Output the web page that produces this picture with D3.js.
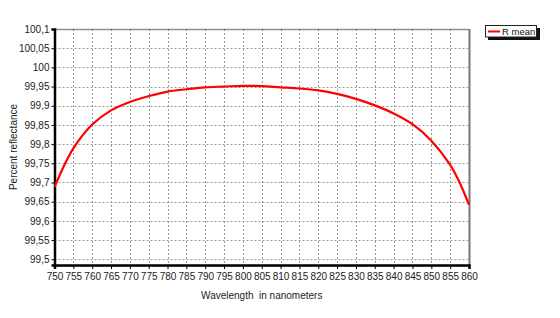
<!DOCTYPE html>
<html>
<head>
<meta charset="utf-8">
<script src="https://cdn.jsdelivr.net/npm/d3@7"></script>
<style>
  html, body { margin: 0; padding: 0; background: #fff; }
  svg { display: block; font-family: "Liberation Sans", Arial, sans-serif; }
</style>
</head>
<body>
<svg id="chart" width="560" height="318"></svg>
<script>
// ---- data ----
const wavelengths = [750, 752.5, 755, 760, 765, 770, 775, 780, 785, 790, 795, 800, 805, 810, 815, 820, 825, 830, 835, 840, 845, 850, 855, 857.5, 860];
const rMean       = [99.688, 99.743, 99.789, 99.851, 99.888, 99.910, 99.925, 99.937, 99.943, 99.948, 99.950, 99.952, 99.951, 99.948, 99.945, 99.940, 99.931, 99.918, 99.901, 99.880, 99.852, 99.809, 99.746, 99.700, 99.642];
const xTicks = [750, 755, 760, 765, 770, 775, 780, 785, 790, 795, 800, 805, 810, 815, 820, 825, 830, 835, 840, 845, 850, 855, 860];
const yTicks = [99.5, 99.55, 99.6, 99.65, 99.7, 99.75, 99.8, 99.85, 99.9, 99.95, 100, 100.05, 100.1];
const seriesName = "R mean";
const xTitle = "Wavelength  in nanometers";
const yTitle = "Percent reflectance";

// ---- layout ----
const svg = d3.select("#chart");
const L = 54.5, R = 469, T = 29, B = 265;

const x = d3.scaleLinear().domain([750, 860]).range([L, R]);
const y = d3.scaleLinear().domain([99.485, 100.1]).range([B, T]);

const fmt = v => {
  let s = v.toFixed(2).replace(/0+$/, "").replace(/\.$/, "");
  return s.replace(".", ",");
};

// grid
const grid = svg.append("g").attr("stroke", "#9a9a9a").attr("stroke-width", 1).attr("stroke-dasharray", "2,2");
grid.selectAll("line.v").data(xTicks.slice(1, -1)).join("line")
  .attr("x1", d => Math.round(x(d)) + 0.5).attr("x2", d => Math.round(x(d)) + 0.5)
  .attr("y1", T).attr("y2", B);
grid.selectAll("line.h").data(yTicks.filter(d => d < 100.1)).join("line")
  .attr("x1", L).attr("x2", R)
  .attr("y1", d => Math.round(y(d)) + 0.5).attr("y2", d => Math.round(y(d)) + 0.5);

// frame: top dotted, right gray
svg.append("line").attr("x1", L).attr("x2", R).attr("y1", T + 0.5).attr("y2", T + 0.5)
  .attr("stroke", "#222").attr("stroke-width", 1.5).attr("stroke-dasharray", "1,1");
svg.append("line").attr("x1", R + 0.5).attr("x2", R + 0.5).attr("y1", T).attr("y2", B)
  .attr("stroke", "#777").attr("stroke-width", 2);

// axes
const yAxis = d3.axisLeft(y).tickValues(yTicks).tickFormat(fmt).tickSize(3).tickPadding(2);
const gy = svg.append("g").attr("transform", `translate(${L},0)`).call(yAxis);
gy.select(".domain").attr("stroke", "#000").attr("stroke-width", 2.5);
gy.selectAll("text").attr("font-size", 10).attr("fill", "#222")
  .attr("font-family", "Liberation Sans, Arial, sans-serif");

const minor = d3.range(750, 861, 1);
const gxm = svg.append("g").attr("transform", `translate(0,${B})`);
gxm.selectAll("line").data(minor).join("line")
  .attr("x1", d => x(d)).attr("x2", d => x(d)).attr("y1", 0).attr("y2", 2)
  .attr("stroke", "#444").attr("stroke-width", 0.8);

const xAxis = d3.axisBottom(x).tickValues(xTicks).tickFormat(d3.format("d")).tickSize(4).tickPadding(4);
const gx = svg.append("g").attr("transform", `translate(0,${B})`).call(xAxis);
gx.select(".domain").attr("stroke", "#000").attr("stroke-width", 2.5);
gx.selectAll("text").attr("font-size", 10).attr("fill", "#222")
  .attr("font-family", "Liberation Sans, Arial, sans-serif");

// titles
svg.append("text").attr("x", (L + R) / 2).attr("y", 299).attr("text-anchor", "middle")
  .attr("font-size", 10).attr("fill", "#222").style("white-space", "pre").text(xTitle);
svg.append("text").attr("transform", `translate(17,${(T + B) / 2}) rotate(-90)`)
  .attr("text-anchor", "middle").attr("font-size", 10).attr("fill", "#222").text(yTitle);

// line
const line = d3.line().x((d, i) => x(wavelengths[i])).y(d => y(d)).curve(d3.curveCatmullRom.alpha(0.5));
svg.append("path").datum(rMean).attr("d", line)
  .attr("fill", "none").attr("stroke", "#ff0000").attr("stroke-width", 2.2);

// legend
const lg = svg.append("g").attr("transform", "translate(485,25)");
lg.append("rect").attr("x", 3).attr("y", 3).attr("width", 52).attr("height", 12).attr("fill", "#111");
lg.append("rect").attr("x", 0.5).attr("y", 0.5).attr("width", 51).attr("height", 11.5)
  .attr("fill", "#fff").attr("stroke", "#222").attr("stroke-width", 1);
lg.append("line").attr("x1", 3).attr("x2", 15).attr("y1", 6.5).attr("y2", 6.5)
  .attr("stroke", "#ff0000").attr("stroke-width", 2);
lg.append("text").attr("x", 17).attr("y", 10).attr("font-size", 9.5).attr("fill", "#111").text(seriesName);
</script>
</body>
</html>
